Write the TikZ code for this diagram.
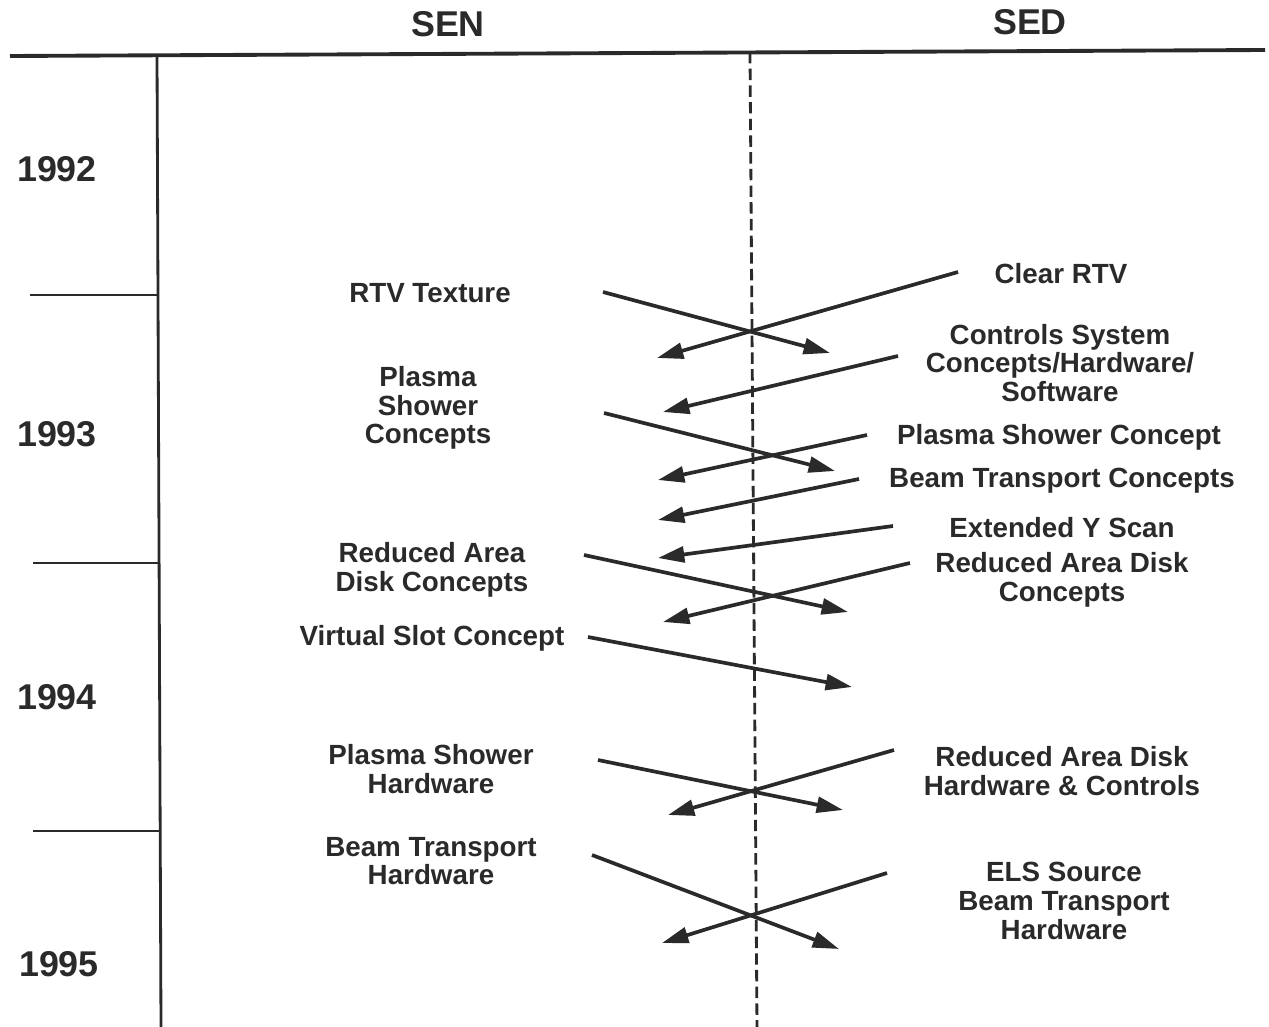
\documentclass[tikz,border=0pt]{standalone}
\usepackage{fontspec}
\setmainfont{Liberation Sans}
\usetikzlibrary{arrows.meta}
\definecolor{ink}{HTML}{2A2A2A}
\begin{document}
\begin{tikzpicture}[x=0.02cm,y=-0.02cm,
  lbl/.style={font=\bfseries\fontsize{15.8}{16.4}\selectfont, text=ink, align=center, inner sep=0pt},
  yr/.style={font=\bfseries\fontsize{20.4}{22}\selectfont, text=ink, inner sep=0pt},
  rule/.style={draw=ink, line width=1.7pt},
  arr/.style={draw=ink, line width=2.1pt, -{Triangle[length=15pt,width=9pt]}}]
\useasboundingbox (0,0) rectangle (1269,1027);
% frame
\coordinate (tl) at (10,56); \coordinate (tr) at (1265,50);
\draw[rule, line width=2.2pt] (tl) -- (tr);
\coordinate (vt) at (157,55); \coordinate (vb) at (161,1027);
\draw[rule, line width=1.6pt] (vt) -- (vb);
\coordinate (dt) at (750,52); \coordinate (db) at (757,1027);
\draw[draw=ink, line width=1.6pt, dash pattern=on 6.5pt off 3pt] (dt) -- (db);
\coordinate (t1a) at (30,295); \coordinate (t1b) at (157,295);
\coordinate (t2a) at (33,563); \coordinate (t2b) at (158,563);
\coordinate (t3a) at (33,831); \coordinate (t3b) at (160,831);
\draw[rule, line width=1.5pt] (t1a) -- (t1b);
\draw[rule, line width=1.5pt] (t2a) -- (t2b);
\draw[rule, line width=1.5pt] (t3a) -- (t3b);
% headers and years
\node[yr] (sen) at (448,24) {SEN};
\node[yr] (sed) at (1030,22) {SED};
\node[yr] (y92) at (57,169) {1992};
\node[yr] (y93) at (57,434) {1993};
\node[yr] (y94) at (57,697) {1994};
\node[yr] (y95) at (59,964) {1995};
% left labels
\node[lbl] (l1) at (430,293) {RTV Texture};
\node[lbl] (l2) at (428,408) {Plasma\\Shower\\Concepts};
\node[lbl] (l3) at (432,570) {Reduced Area\\Disk Concepts};
\node[lbl] (l4) at (432,638) {Virtual Slot Concept};
\node[lbl] (l5) at (431,769) {Plasma Shower\\Hardware};
\node[lbl] (l6) at (431,861) {Beam Transport\\Hardware};
% right labels
\node[lbl] (r1) at (1061,274) {Clear RTV};
\node[lbl] (r2) at (1060,363) {Controls System\\Concepts/Hardware/\\Software};
\node[lbl] (r3) at (1059,437) {Plasma Shower Concept};
\node[lbl] (r4) at (1062,481) {Beam Transport Concepts};
\node[lbl] (r5) at (1062,528) {Extended Y Scan};
\node[lbl] (r6) at (1062,580) {Reduced Area Disk\\Concepts};
\node[lbl] (r7) at (1062,771) {Reduced Area Disk\\Hardware \& Controls};
\node[lbl] (r8) at (1064,901) {ELS Source\\Beam Transport\\Hardware};
% arrow end points
\coordinate (a1s) at (603,292); \coordinate (a1e) at (830,353);
\coordinate (a2s) at (958,272); \coordinate (a2e) at (657,358);
\coordinate (a3s) at (898,356); \coordinate (a3e) at (663,412);
\coordinate (a4s) at (604,413); \coordinate (a4e) at (835,471);
\coordinate (a5s) at (867,435); \coordinate (a5e) at (658,480);
\coordinate (a6s) at (859,479); \coordinate (a6e) at (658,520);
\coordinate (a7s) at (893,526); \coordinate (a7e) at (658,558);
\coordinate (a8s) at (584,555); \coordinate (a8e) at (848,612);
\coordinate (a9s) at (910,563); \coordinate (a9e) at (663,622);
\coordinate (a10s) at (588,637); \coordinate (a10e) at (852,687);
\coordinate (a11s) at (598,760); \coordinate (a11e) at (843,810);
\coordinate (a12s) at (894,750); \coordinate (a12e) at (668,815);
\coordinate (a13s) at (592,855); \coordinate (a13e) at (839,949);
\coordinate (a14s) at (887,873); \coordinate (a14e) at (662,943);
\foreach \i in {1,...,14} {\draw[arr] (a\i s) -- (a\i e);}
\end{tikzpicture}
\end{document}
